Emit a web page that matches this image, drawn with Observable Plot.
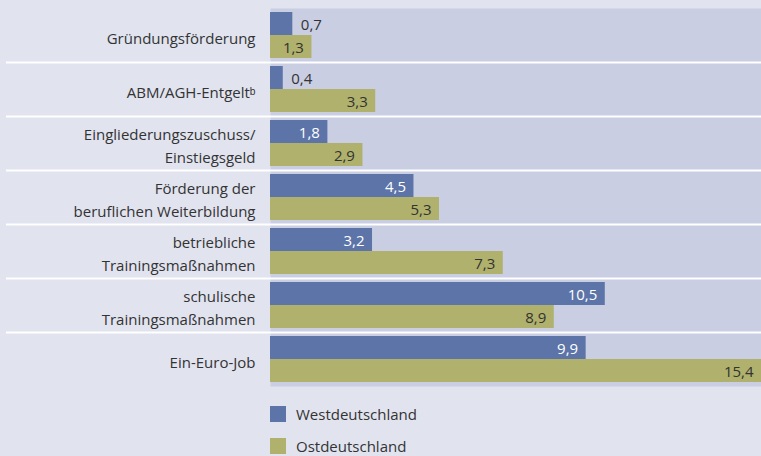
<!DOCTYPE html>
<html>
<head>
<meta charset="utf-8">
<script src="https://cdn.jsdelivr.net/npm/d3@7"></script>
<script src="https://cdn.jsdelivr.net/npm/@observablehq/plot@0.6"></script>
<style>
  html, body { margin: 0; padding: 0; background: #e1e3ef; }
  body { width: 761px; height: 456px; overflow: hidden; font-family: "Open Sans", sans-serif; color: #333; }
  #legend { margin-left: 270px; margin-top: 11px; }
  .item { display: flex; align-items: center; height: 16px; margin-bottom: 16px; font-size: 15px; }
  .sw { width: 16px; height: 16px; margin-right: 10px; flex: none; }
</style>
</head>
<body>
<div id="chart"></div>
<div id="legend"></div>
<script>
const categories = [
  "Gründungsförderung",
  "ABM/AGH-Entgeltᵇ",
  "Eingliederungszuschuss/\nEinstiegsgeld",
  "Förderung der\nberuflichen Weiterbildung",
  "betriebliche\nTrainingsmaßnahmen",
  "schulische\nTrainingsmaßnahmen",
  "Ein-Euro-Job"
];
const seriesNames = ["Westdeutschland", "Ostdeutschland"];
const west = [0.7, 0.4, 1.8, 4.5, 3.2, 10.5, 9.9];
const east = [1.3, 3.3, 2.9, 5.3, 7.3, 8.9, 15.4];
const colors = ["#5c74a8", "#afb16c"];

const rows = [];
categories.forEach((c, i) => {
  rows.push({cat: c, series: seriesNames[0], value: west[i]});
  rows.push({cat: c, series: seriesNames[1], value: east[i]});
});

const fmt = v => v.toFixed(1).replace(".", ",");
const insideMin = 1;

const W = 761, H = 395, mt = 7, mb = 8, ml = 270;
const pad = 0.1625;
const facetH = (H - mt - mb) / categories.length;
const bw = facetH / (2 + 2 * pad);
const sepDy = -(pad * bw + bw / 2);

const chart = Plot.plot({
  width: W,
  height: H,
  marginLeft: ml,
  marginRight: 0,
  marginTop: mt,
  marginBottom: mb,
  style: {background: "transparent", fontFamily: "Open Sans, sans-serif", fontSize: "15px", color: "#333"},
  fy: {domain: categories, padding: 0, axis: null},
  y: {domain: seriesNames, paddingInner: 0, paddingOuter: pad, axis: null},
  x: {domain: [0, 15.4], axis: null},
  color: {domain: seriesNames, range: colors},
  marks: [
    Plot.frame({fill: "#c9cee3", stroke: "none"}),
    Plot.ruleY(categories.slice(1), {fy: d => d, y: () => seriesNames[0], dy: sepDy, stroke: "white", strokeWidth: 2, insetLeft: -(ml - 6)}),
    Plot.barX(rows, {fy: "cat", y: "series", x: "value", fill: "series"}),
    Plot.text(categories, {fy: d => d, text: d => d, frameAnchor: "left", textAnchor: "end", dx: -15, dy: 1, lineHeight: 1.52, fontSize: 15, fill: "#333"}),
    Plot.text(rows.filter(d => d.value >= insideMin && d.series === seriesNames[0]), {fy: "cat", y: "series", x: "value", text: d => fmt(d.value), textAnchor: "end", dx: -8, dy: 1, fill: "white", fontSize: 15}),
    Plot.text(rows.filter(d => d.value >= insideMin && d.series === seriesNames[1]), {fy: "cat", y: "series", x: "value", text: d => fmt(d.value), textAnchor: "end", dx: -8, dy: 1, fill: "#333", fontSize: 15}),
    Plot.text(rows.filter(d => d.value < insideMin), {fy: "cat", y: "series", x: "value", text: d => fmt(d.value), textAnchor: "start", dx: 8, dy: 1, fill: "#333", fontSize: 15})
  ]
});
document.getElementById("chart").appendChild(chart);

const legend = document.getElementById("legend");
seriesNames.forEach((s, i) => {
  const item = document.createElement("div");
  item.className = "item";
  const sw = document.createElement("span");
  sw.className = "sw";
  sw.style.background = colors[i];
  const t = document.createElement("span");
  t.textContent = s;
  item.appendChild(sw);
  item.appendChild(t);
  legend.appendChild(item);
});
</script>
</body>
</html>
